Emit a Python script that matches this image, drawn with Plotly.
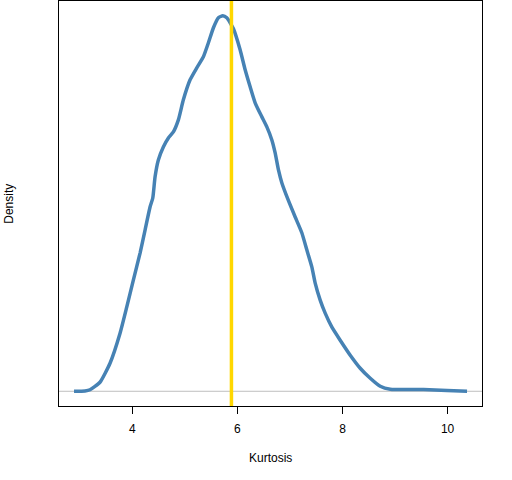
import plotly.graph_objects as go

# Density estimate of kurtosis
kurt_x = [2.890, 3.099, 3.194, 3.384, 3.575, 3.766, 3.893, 4.019, 4.147, 4.242,
          4.337, 4.389, 4.432, 4.495, 4.590, 4.686, 4.781, 4.876, 4.971, 5.099,
          5.227, 5.352, 5.448, 5.543, 5.638, 5.722, 5.798, 5.924, 6.051, 6.147,
          6.242, 6.337, 6.465, 6.560, 6.655, 6.718, 6.781, 6.846, 6.966, 7.099,
          7.227, 7.322, 7.417, 7.480, 7.575, 7.670, 7.798, 7.956, 8.147, 8.337,
          8.528, 8.718, 8.909, 9.543, 9.989, 10.370]
density_y = [0.000, 0.0003, 0.0015, 0.009, 0.028, 0.058, 0.084, 0.111, 0.138, 0.161,
             0.184, 0.193, 0.214, 0.231, 0.244, 0.253, 0.259, 0.271, 0.291, 0.311,
             0.323, 0.334, 0.348, 0.363, 0.373, 0.375, 0.373, 0.362, 0.341, 0.321,
             0.304, 0.288, 0.274, 0.264, 0.251, 0.238, 0.221, 0.208, 0.191, 0.174,
             0.158, 0.141, 0.124, 0.108, 0.091, 0.078, 0.064, 0.051, 0.036, 0.023,
             0.013, 0.005, 0.002, 0.0017, 0.0007, 0.000]
observed_kurtosis = 5.886
x_ticks = [4, 6, 8, 10]

font_family = "Liberation Sans, Arial, sans-serif"

fig = go.Figure()
fig.add_trace(go.Scatter(
    x=kurt_x, y=density_y, mode="lines",
    line=dict(color="#4682B4", width=3.5, shape="spline", smoothing=0.5),
    hoverinfo="skip", showlegend=False,
))

fig.add_shape(type="line", xref="paper", yref="y", x0=0, x1=1, y0=0, y1=0,
              line=dict(color="#BEBEBE", width=1), layer="below")
fig.add_shape(type="line", xref="x", yref="paper", x0=observed_kurtosis,
              x1=observed_kurtosis, y0=0, y1=1,
              line=dict(color="#FFD700", width=3.5), layer="above")

fig.update_layout(
    width=512, height=480,
    margin=dict(l=59, r=30, t=1, b=74),
    paper_bgcolor="white", plot_bgcolor="white",
    font=dict(family=font_family, size=12, color="black"),
    showlegend=False,
    xaxis=dict(
        range=[2.604, 10.655], tickmode="array", tickvals=x_ticks,
        ticktext=[str(t) for t in x_ticks],
        ticks="outside", ticklen=7, tickwidth=1, tickcolor="black",
        ticklabelstandoff=5,
        showgrid=False, zeroline=False, showline=True, linecolor="black",
        linewidth=1, mirror=True,
        tickfont=dict(family=font_family, size=12, color="black"),
    ),
    yaxis=dict(
        range=[-0.0147, 0.3897], showticklabels=False, ticks="",
        showgrid=False, zeroline=False, showline=True, linecolor="black",
        linewidth=1, mirror=True,
    ),
    annotations=[
        dict(text="Kurtosis", xref="paper", yref="paper", x=0.5, y=-0.128,
             yanchor="middle", xanchor="center", showarrow=False,
             font=dict(family=font_family, size=12, color="black")),
        dict(text="Density", xref="paper", yref="paper", x=-0.12, y=0.5,
             textangle=-90, xanchor="center", yanchor="middle", showarrow=False,
             font=dict(family=font_family, size=12, color="black")),
    ],
)

fig.write_html("out.html",
               config={"displayModeBar": False},
               post_script="document.body.style.margin='0';document.body.style.padding='0';")
